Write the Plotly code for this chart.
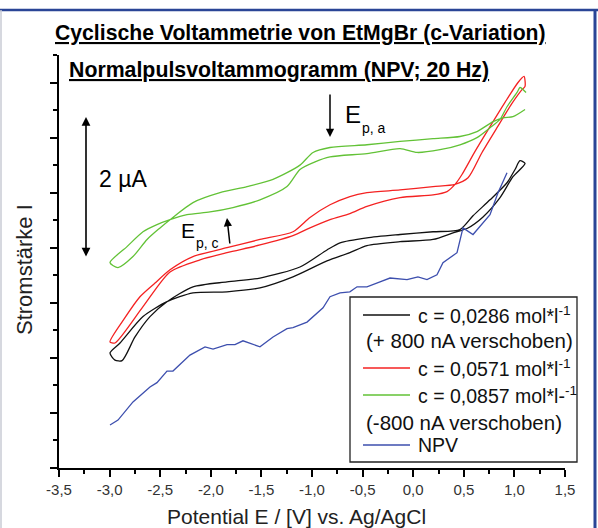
import plotly.graph_objects as go

# ---- measured curves: potential E in V, current in arbitrary units (1 unit = 1 major y tick) ----
E_black = [-2.996, -2.897, -2.670, -2.433, -2.176, -1.840, -1.514, -1.188, -0.852, -0.626,
           -0.457, -0.130, 0.196, 0.393, 0.532, 0.690, 0.858, 0.986, 1.105, 1.055,
           1.006, 0.927, 0.759, 0.591, 0.462, 0.196, -0.130, -0.457, -0.723, -0.852,
           -1.119, -1.514, -1.840, -2.176, -2.433, -2.601, -2.749, -2.877, -2.947, -2.996]
I_black = [2.09, 2.27, 2.75, 3.02, 3.18, 3.20, 3.27, 3.47, 3.76, 3.91,
           4.04, 4.11, 4.15, 4.27, 4.35, 4.56, 4.91, 5.29, 5.53, 5.58,
           5.42, 5.18, 4.87, 4.58, 4.33, 4.29, 4.24, 4.18, 4.09, 3.96,
           3.65, 3.45, 3.38, 3.29, 3.02, 2.75, 2.38, 1.95, 1.96, 2.09]

E_red = [1.095, 1.036, 0.907, 0.759, 0.611, 0.482, 0.413, 0.334, 0.196, -0.130,
         -0.457, -0.626, -0.822, -1.020, -1.188, -1.514, -1.840, -2.107, -2.403, -2.670,
         -2.947, -2.996, -2.848, -2.700, -2.551, -2.403, -2.176, -1.840, -1.514, -1.188,
         -1.020, -0.822, -0.626, -0.457, -0.130, 0.196, 0.413, 0.542, 0.680, 0.828,
         0.976, 1.075, 1.105, 1.095]
I_red = [7.11, 7.00, 6.64, 6.20, 5.75, 5.33, 5.15, 5.02, 4.96, 4.91,
         4.75, 4.62, 4.51, 4.36, 4.22, 4.05, 3.91, 3.78, 3.56, 2.93,
         2.27, 2.29, 2.73, 3.11, 3.36, 3.60, 3.84, 4.00, 4.15, 4.29,
         4.55, 4.78, 4.93, 5.00, 5.05, 5.11, 5.15, 5.27, 5.73, 6.18,
         6.62, 6.87, 6.93, 7.11]

E_green = [1.105, 0.986, 0.887, 0.789, 0.630, 0.462, 0.196, -0.130, -0.457, -0.822,
           -0.990, -1.119, -1.385, -1.642, -1.909, -2.176, -2.403, -2.502, -2.630, -2.769,
           -2.917, -2.996, -2.828, -2.670, -2.532, -2.403, -2.235, -2.008, -1.781, -1.514,
           -1.247, -1.119, -0.970, -0.822, -0.457, -0.130, 0.038, 0.265, 0.462, 0.630,
           0.759, 0.858, 0.927, 1.026, 1.055, 1.115]
I_green = [6.51, 6.38, 6.36, 6.29, 6.11, 6.02, 5.98, 5.93, 5.87, 5.82,
           5.73, 5.50, 5.24, 5.11, 5.00, 4.82, 4.51, 4.36, 4.15, 3.84,
           3.64, 3.73, 4.02, 4.29, 4.42, 4.51, 4.60, 4.65, 4.73, 4.87,
           5.11, 5.42, 5.56, 5.65, 5.71, 5.80, 5.73, 5.78, 5.87, 6.00,
           6.18, 6.33, 6.56, 6.82, 6.91, 6.82]

E_npv = [-2.996, -2.917, -2.769, -2.601, -2.532, -2.433, -2.374, -2.206, -2.057, -1.978,
         -1.840, -1.761, -1.682, -1.514, -1.385, -1.247, -1.188, -1.049, -0.891, -0.822,
         -0.723, -0.626, -0.555, -0.457, -0.328, -0.229, -0.061, 0.047, 0.136, 0.235,
         0.294, 0.433, 0.492, 0.591, 0.759, 0.838, 0.927]
I_npv = [0.78, 0.87, 1.20, 1.47, 1.55, 1.76, 1.76, 2.05, 2.20, 2.16,
         2.24, 2.24, 2.31, 2.20, 2.38, 2.53, 2.55, 2.65, 2.91, 3.11,
         3.18, 3.20, 3.29, 3.29, 3.38, 3.45, 3.42, 3.47, 3.42, 3.51,
         3.73, 3.91, 4.36, 4.24, 4.60, 5.00, 5.36]

x_tick_vals = [-3.5, -3.0, -2.5, -2.0, -1.5, -1.0, -0.5, 0.0, 0.5, 1.0, 1.5]
x_tick_labels = ["-3,5", "-3,0", "-2,5", "-2,0", "-1,5", "-1,0", "-0,5", "0,0", "0,5", "1,0", "1,5"]

series_names = ["c = 0,0286 mol*l<sup>-1</sup>", "c = 0,0571 mol*l<sup>-1</sup>",
                "c = 0,0857 mol*l-<sup>-1</sup>", "NPV"]
series_notes = ["(+ 800 nA verschoben)", None, "(-800 nA verschoben)", None]
series_colors = ["#111111", "#f42222", "#62c236", "#3d4fae"]

FONT = "Liberation Sans, Arial, Helvetica, sans-serif"

fig = go.Figure()
# cyclic voltammograms are smooth loops; the NPV trace is a stepped pulse record
for E, I, col, shape in [(E_black, I_black, series_colors[0], "spline"),
                         (E_red, I_red, series_colors[1], "spline"),
                         (E_green, I_green, series_colors[2], "spline"),
                         (E_npv, I_npv, series_colors[3], "linear")]:
    fig.add_trace(go.Scatter(x=E, y=I, mode="lines",
                             line=dict(color=col, width=1.3, shape=shape, smoothing=0.7),
                             hoverinfo="skip"))

# plot area in pixels: x 59..565, y 55..468
L, R, T, B = 59, 565, 55, 468
W, H = R - L, B - T


def px(x):
    return (x - L) / W


def py(y):
    return (B - y) / H


annotations = []
shapes = []

# headings
annotations.append(dict(text="<u>Cyclische Voltammetrie von EtMgBr (c-Variation)</u>",
                        x=px(300), y=py(33), xref="paper", yref="paper", xanchor="center",
                        yanchor="middle", showarrow=False,
                        font=dict(family=FONT, size=21.2, color="black", weight="bold")))
annotations.append(dict(text="<u>Normalpulsvoltammogramm (NPV; 20 Hz)</u>",
                        x=px(67), y=py(70), xref="paper", yref="paper", xanchor="left",
                        yanchor="middle", showarrow=False,
                        font=dict(family=FONT, size=21.3, color="black", weight="bold")))

# axis titles
annotations.append(dict(text="Potential E / [V] vs. Ag/AgCl", x=px(296), y=py(516),
                        xref="paper", yref="paper", xanchor="center", yanchor="middle",
                        showarrow=False, font=dict(family=FONT, size=21, color="#222")))
annotations.append(dict(text="Stromstärke I", x=px(24), y=py(270), textangle=-90,
                        xref="paper", yref="paper", xanchor="center", yanchor="middle",
                        showarrow=False, font=dict(family=FONT, size=22, color="#222")))

# 2 µA scale bar
annotations.append(dict(x=px(86), y=py(117), xref="paper", yref="paper", text="",
                        showarrow=True, ax=0, ay=141, arrowside="end+start",
                        arrowhead=2, arrowsize=1.1, arrowwidth=1.6, arrowcolor="black"))
annotations.append(dict(text="2 µA", x=px(97), y=py(179), xref="paper", yref="paper",
                        xanchor="left", yanchor="middle", showarrow=False,
                        font=dict(family=FONT, size=23, color="black")))

# E_p,a marker
annotations.append(dict(x=px(330), y=py(137), xref="paper", yref="paper", text="",
                        showarrow=True, ax=0, ay=-44, arrowhead=2, arrowsize=1.1,
                        arrowwidth=1.5, arrowcolor="black"))
annotations.append(dict(text="E", x=px(343), y=py(114), xref="paper", yref="paper",
                        xanchor="left", yanchor="middle", showarrow=False,
                        font=dict(family=FONT, size=24, color="black")))
annotations.append(dict(text="p, a", x=px(360), y=py(128), xref="paper", yref="paper",
                        xanchor="left", yanchor="middle", showarrow=False,
                        font=dict(family=FONT, size=14, color="black")))

# E_p,c marker
annotations.append(dict(x=px(227), y=py(218), xref="paper", yref="paper", text="",
                        showarrow=True, ax=3, ay=27, arrowhead=2, arrowsize=1.1,
                        arrowwidth=1.5, arrowcolor="black"))
annotations.append(dict(text="E", x=px(179), y=py(230), xref="paper", yref="paper",
                        xanchor="left", yanchor="middle", showarrow=False,
                        font=dict(family=FONT, size=21, color="black")))
annotations.append(dict(text="p, c", x=px(194), y=py(243), xref="paper", yref="paper",
                        xanchor="left", yanchor="middle", showarrow=False,
                        font=dict(family=FONT, size=14, color="black")))

# legend box
shapes.append(dict(type="rect", xref="paper", yref="paper", x0=px(350), x1=px(577),
                   y0=py(462), y1=py(297), line=dict(color="#222", width=1.3),
                   fillcolor="white", layer="above"))
rows = [315, 368, 395, 445]
note_rows = [340, None, 422, None]
for name, note, col, ry, ny in zip(series_names, series_notes, series_colors, rows, note_rows):
    shapes.append(dict(type="line", xref="paper", yref="paper", x0=px(363), x1=px(410),
                       y0=py(ry), y1=py(ry), line=dict(color=col, width=1.3), layer="above"))
    annotations.append(dict(text=name, x=px(416), y=py(ry), xref="paper", yref="paper",
                            xanchor="left", yanchor="middle", showarrow=False,
                            font=dict(family=FONT, size=19.5, color="#111")))
    if note:
        annotations.append(dict(text=note, x=px(364), y=py(ny), xref="paper", yref="paper",
                                xanchor="left", yanchor="middle", showarrow=False,
                                font=dict(family=FONT, size=20.5, color="#111")))

# page frame
frame_col = "#2a4596"
shapes.append(dict(type="line", xref="paper", yref="paper", x0=px(0), x1=px(598),
                   y0=py(10), y1=py(10), line=dict(color=frame_col, width=2.5)))
shapes.append(dict(type="line", xref="paper", yref="paper", x0=px(595), x1=px(595),
                   y0=py(10), y1=py(528), line=dict(color=frame_col, width=3)))
shapes.append(dict(type="line", xref="paper", yref="paper", x0=px(1), x1=px(1),
                   y0=py(10), y1=py(528), line=dict(color="#c8cbd4", width=1.5)))

fig.update_layout(
    width=598, height=528,
    margin=dict(l=L, r=598 - R, t=T, b=528 - B),
    paper_bgcolor="white", plot_bgcolor="white",
    showlegend=False,
    font=dict(family=FONT),
    annotations=annotations,
    shapes=shapes,
    xaxis=dict(range=[-3.5, 1.5], tickvals=x_tick_vals, ticktext=x_tick_labels,
               ticks="outside", ticklen=7, tickwidth=1.5, tickcolor="black",
               showline=True, linecolor="black", linewidth=1.5, mirror=False,
               showgrid=False, zeroline=False,
               tickfont=dict(family=FONT, size=15, color="#333"),
               minor=dict(dtick=0.25, tick0=-3.5, ticks="outside", ticklen=4,
                          tickwidth=1.5, tickcolor="black", showgrid=False)),
    yaxis=dict(range=[0, 7.5], tick0=0, dtick=1, showticklabels=False,
               ticks="outside", ticklen=7, tickwidth=1.5, tickcolor="black",
               showline=True, linecolor="black", linewidth=1.5,
               showgrid=False, zeroline=False,
               minor=dict(dtick=0.5, tick0=0, ticks="outside", ticklen=4,
                          tickwidth=1.5, tickcolor="black", showgrid=False)),
)

fig.write_html("out.html")
